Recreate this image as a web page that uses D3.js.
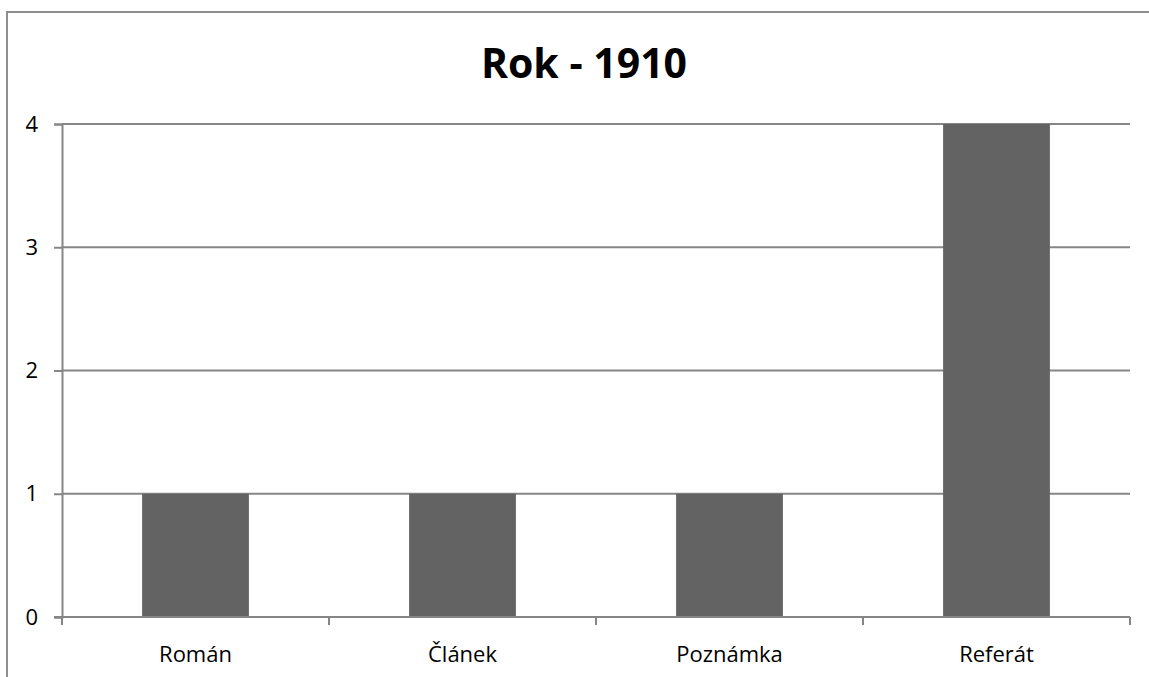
<!DOCTYPE html>
<html>
<head>
<meta charset="utf-8">
<script src="https://cdn.jsdelivr.net/npm/d3@7"></script>
<style>
  html, body { margin: 0; padding: 0; background: #fff; }
  svg { display: block; }
</style>
</head>
<body>
<svg id="chart" width="1149" height="677"></svg>
<script>
// Counts of publication types for the year 1910
const categories = ["Román", "Článek", "Poznámka", "Referát"];
const values = [1, 1, 1, 4];
const yTicks = [0, 1, 2, 3, 4];
const title = "Rok - 1910";

const svg = d3.select("#chart");
const W = 1149, H = 677;
const plot = { left: 62, right: 1130, top: 124, bottom: 617 };
const font = "'Open Sans', sans-serif";

// Chart frame
svg.append("rect")
  .attr("x", 7).attr("y", 12)
  .attr("width", W + 20).attr("height", H + 20)
  .attr("fill", "#fff")
  .attr("stroke", "#8e8e8e")
  .attr("stroke-width", 2);

const x = d3.scaleBand()
  .domain(categories)
  .range([plot.left, plot.right])
  .paddingInner(0.6)
  .paddingOuter(0.3);

const y = d3.scaleLinear()
  .domain([0, 4])
  .range([plot.bottom, plot.top]);

// Horizontal gridlines
svg.append("g")
  .selectAll("line")
  .data(yTicks.filter(d => d > 0))
  .join("line")
  .attr("x1", plot.left).attr("x2", plot.right)
  .attr("y1", d => y(d)).attr("y2", d => y(d))
  .attr("stroke", "#868686")
  .attr("stroke-width", 2);

// Bars
svg.append("g")
  .selectAll("rect")
  .data(categories.map((c, i) => ({ c, v: values[i] })))
  .join("rect")
  .attr("x", d => x(d.c))
  .attr("width", x.bandwidth())
  .attr("y", d => y(d.v))
  .attr("height", d => y(0) - y(d.v))
  .attr("fill", "#636363");

// Y axis
const yAxis = d3.axisLeft(y)
  .tickValues(yTicks)
  .tickFormat(d3.format("d"))
  .tickSize(8)
  .tickPadding(16);

const gy = svg.append("g")
  .attr("transform", `translate(${plot.left},0)`)
  .call(yAxis);
gy.select(".domain").attr("stroke", "#868686").attr("stroke-width", 2);
gy.selectAll(".tick line").attr("stroke", "#868686").attr("stroke-width", 2);
gy.selectAll(".tick text")
  .attr("font-family", font)
  .attr("font-size", 22)
  .attr("fill", "#000");

// X axis with ticks at the category boundaries
const step = x.step();
const boundaries = [plot.left].concat(categories.map(c => x(c) + x.bandwidth() + step * 0.3));
const gx = svg.append("g")
  .attr("transform", `translate(0,${plot.bottom})`);
gx.append("line")
  .attr("x1", plot.left - 8).attr("x2", plot.right)
  .attr("stroke", "#868686").attr("stroke-width", 2);
gx.selectAll("line.bt")
  .data(boundaries)
  .join("line")
  .attr("class", "bt")
  .attr("x1", d => d).attr("x2", d => d)
  .attr("y1", 0).attr("y2", 8)
  .attr("stroke", "#868686").attr("stroke-width", 2);
gx.selectAll("text")
  .data(categories)
  .join("text")
  .attr("x", d => x(d) + x.bandwidth() / 2)
  .attr("y", 45)
  .attr("text-anchor", "middle")
  .attr("font-family", font)
  .attr("font-size", 22)
  .attr("fill", "#000")
  .text(d => d);

// Title
svg.append("text")
  .attr("x", 584)
  .attr("y", 78)
  .attr("text-anchor", "middle")
  .attr("font-family", font)
  .attr("font-weight", "bold")
  .attr("font-size", 41)
  .attr("fill", "#000")
  .text(title);
</script>
</body>
</html>
